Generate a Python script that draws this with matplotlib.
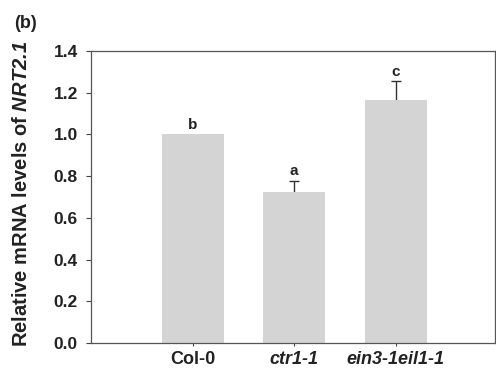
import matplotlib
matplotlib.use('Agg')
import matplotlib.pyplot as plt
import numpy as np

# data
genotypes = ['Col-0', 'ctr1-1', 'ein3-1eil1-1']
italic_label = [False, True, True]
expression = [1.00, 0.725, 1.165]
errors = [0.0, 0.052, 0.09]
letters = ['b', 'a', 'c']
yticks = [0.0, 0.2, 0.4, 0.6, 0.8, 1.0, 1.2, 1.4]

plt.rcParams['font.family'] = ['Liberation Sans', 'DejaVu Sans']
plt.rcParams['font.weight'] = 'bold'
plt.rcParams['mathtext.fontset'] = 'custom'
plt.rcParams['mathtext.it'] = 'Liberation Sans:italic:bold'
plt.rcParams['mathtext.rm'] = 'Liberation Sans:italic:bold'

fig = plt.figure(figsize=(4.96, 3.78), dpi=100)
ax = fig.add_axes([0.1835, 0.0926, 0.815, 0.7725])

x = np.arange(len(genotypes))
ax.bar(x, expression, width=0.61, color='#d4d4d4', edgecolor='none', zorder=2)
# symmetric bars drawn under the columns, so only the upper half shows
has_err = [i for i, e in enumerate(errors) if e > 0]
ax.errorbar(x[has_err], [expression[i] for i in has_err],
            yerr=[errors[i] for i in has_err], fmt='none',
            ecolor='#333333', elinewidth=1, capsize=3.6, capthick=1, zorder=1)

for xi, v, e, t in zip(x, expression, errors, letters):
    ax.text(xi, v + e + 0.012, t, ha='center', va='bottom', fontsize=11,
            fontweight='bold', color='#222222')

ax.set_xlim(-1.0, 2.98)
ax.set_ylim(0, 1.4)
ax.set_yticks(yticks)
ax.set_yticklabels(['%.1f' % t for t in yticks], fontsize=12.5, fontweight='bold')
ax.set_xticks(x)
ax.set_xticklabels(genotypes, fontsize=13, fontweight='bold')
for lab, it in zip(ax.get_xticklabels(), italic_label):
    if it:
        lab.set_fontstyle('italic')

ax.tick_params(axis='y', direction='out', length=3.5, width=0.8, colors='#444444',
               labelcolor='#222222', pad=6)
ax.tick_params(axis='x', direction='out', length=2.5, width=0.8, colors='#444444',
               labelcolor='#222222', pad=3)
for s in ax.spines.values():
    s.set_color('#555555')
    s.set_linewidth(0.9)

ax.set_ylabel(r'Relative mRNA levels of $\it{NRT2.1}$', fontsize=14.5,
              fontweight='bold', color='#222222')
ax.yaxis.set_label_coords(-0.148, 0.512)
fig.text(0.028, 0.938, '(b)', fontsize=13, fontweight='bold', color='#222222',
         ha='left', va='center')

fig.savefig('out.png', dpi=100)
